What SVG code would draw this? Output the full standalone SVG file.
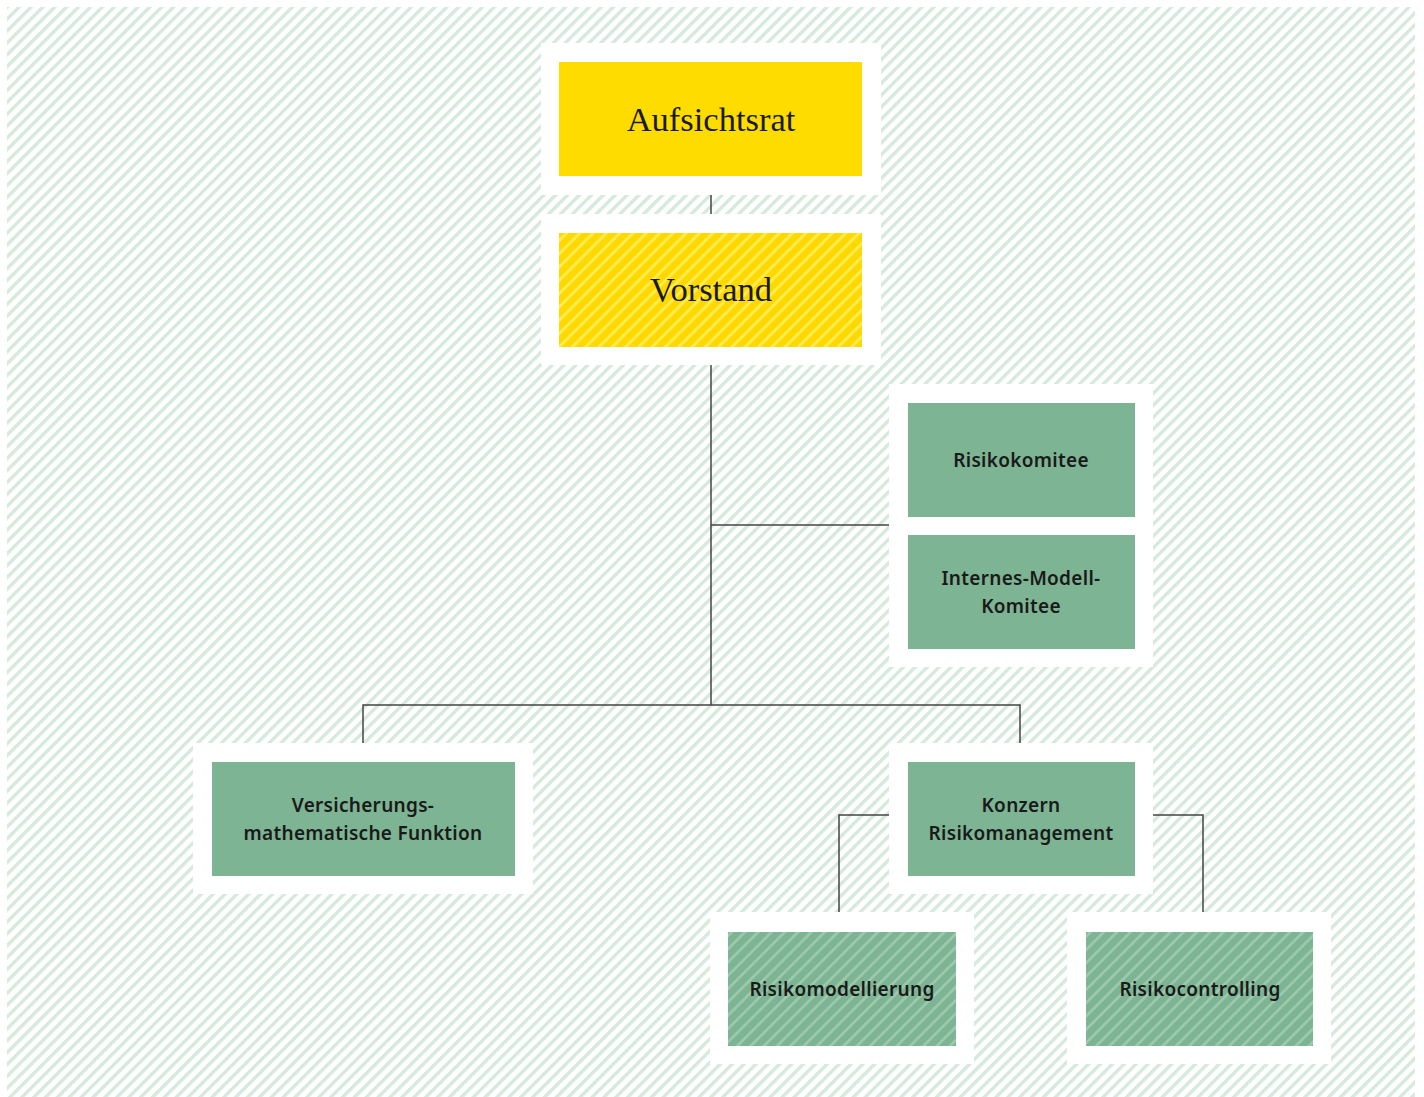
<svg xmlns="http://www.w3.org/2000/svg" width="1424" height="1097" viewBox="0 0 1424 1097">
<defs>
<pattern id="bg" width="8.4" height="8.4" patternUnits="userSpaceOnUse" patternTransform="rotate(45)">
<rect width="8.4" height="8.4" fill="#ffffff"/>
<rect width="3.4" height="8.4" fill="#d6e9dd"/>
</pattern>
<pattern id="yh" width="9.4" height="9.4" patternUnits="userSpaceOnUse" patternTransform="rotate(45)">
<rect width="9.4" height="9.4" fill="#ffd800"/>
<rect width="3" height="9.4" fill="#ffec4d"/>
</pattern>
<pattern id="gh" width="9.4" height="9.4" patternUnits="userSpaceOnUse" patternTransform="rotate(45)">
<rect width="9.4" height="9.4" fill="#7db493"/>
<rect width="2.8" height="9.4" fill="#9cc8ab"/>
</pattern>
</defs>
<style>
.frame{fill:#ffffff}
.green{fill:#7db493}
.serif{font-family:"Liberation Serif","DejaVu Serif",serif;font-size:34.5px;fill:#1a1a1a;text-anchor:middle}
.sans{font-family:"Noto Sans","Open Sans",sans-serif;font-size:19px;font-weight:600;fill:#1a1a1a;text-anchor:middle;letter-spacing:0.3px}
.conn{stroke:#444444;stroke-width:1.5;fill:none}
</style>
<rect x="7" y="7" width="1408" height="1090" fill="url(#bg)"/>
<g id="connectors">
<line class="conn" x1="711" y1="195" x2="711" y2="214"/>
<line class="conn" x1="711" y1="365" x2="711" y2="705"/>
<line class="conn" x1="711" y1="525" x2="889" y2="525"/>
<polyline class="conn" points="363,743 363,705 1020,705 1020,743"/>
<polyline class="conn" points="889,815 839,815 839,912"/>
<polyline class="conn" points="1153,815 1203,815 1203,912"/>
</g>
<g id="aufsichtsrat">
<rect class="frame" x="541" y="43" width="340" height="152"/>
<rect x="559" y="62" width="303" height="114" fill="#ffdc00"/>
<text class="serif" x="711" y="131">Aufsichtsrat</text>
</g>
<g id="vorstand">
<rect class="frame" x="541" y="214" width="340" height="151"/>
<rect x="559" y="233" width="303" height="114" fill="url(#yh)"/>
<text class="serif" x="711" y="301">Vorstand</text>
</g>
<g id="komitees">
<rect class="frame" x="889" y="384" width="264" height="283"/>
<g id="risikokomitee">
<rect class="green" x="908" y="403" width="227" height="114"/>
<text class="sans" x="1021" y="467">Risikokomitee</text>
</g>
<g id="internes-modell-komitee">
<rect class="green" x="908" y="535" width="227" height="114"/>
<text class="sans" x="1021" y="585">Internes-Modell-</text>
<text class="sans" x="1021" y="613">Komitee</text>
</g>
</g>
<g id="versicherungsmathematische-funktion">
<rect class="frame" x="193" y="743" width="340" height="151"/>
<rect class="green" x="212" y="762" width="303" height="114"/>
<text class="sans" x="363" y="812">Versicherungs-</text>
<text class="sans" x="363" y="840">mathematische Funktion</text>
</g>
<g id="konzern-risikomanagement">
<rect class="frame" x="889" y="743" width="264" height="151"/>
<rect class="green" x="908" y="762" width="227" height="114"/>
<text class="sans" x="1021" y="812">Konzern</text>
<text class="sans" x="1021" y="840">Risikomanagement</text>
</g>
<g id="risikomodellierung">
<rect class="frame" x="710" y="912" width="264" height="152"/>
<rect x="728" y="932" width="228" height="114" fill="url(#gh)"/>
<text class="sans" x="842" y="996">Risikomodellierung</text>
</g>
<g id="risikocontrolling">
<rect class="frame" x="1067" y="912" width="264" height="152"/>
<rect x="1086" y="932" width="227" height="114" fill="url(#gh)"/>
<text class="sans" x="1200" y="996">Risikocontrolling</text>
</g>
</svg>
